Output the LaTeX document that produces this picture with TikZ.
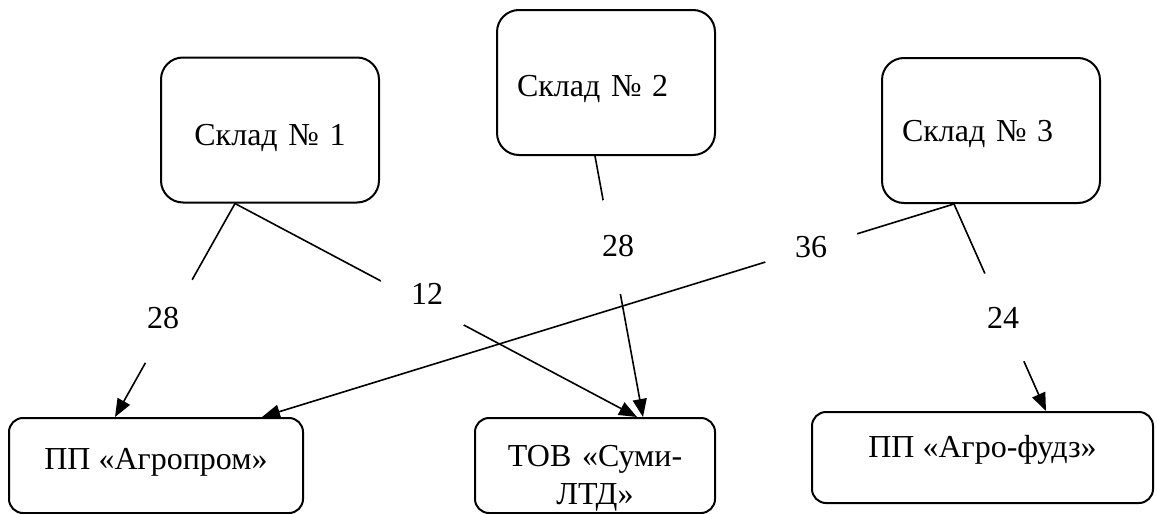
\documentclass[tikz,border=0pt]{standalone}
\usepackage{fontspec}
\setmainfont{Liberation Serif}
\usetikzlibrary{arrows.meta,calc}

\begin{document}
\begin{tikzpicture}[x=0.5pt,y=-0.5pt]
  \tikzstyle{every node}=[font=\fontsize{16pt}{19pt}\selectfont]
  \tikzstyle{store}=[draw,line width=1pt,rounded corners=11pt,text width=89pt,inner xsep=10pt,minimum height=72.5pt,text depth=3.4pt]
  \tikzstyle{shop}=[draw,line width=1pt,rounded corners=7pt,align=center,inner xsep=10pt,inner ysep=0pt]
  \tikzstyle{amount}=[circle,fill=white,inner sep=0pt,minimum size=48pt]
  \tikzstyle{route}=[line width=0.8pt,-{Triangle[length=9pt,width=7pt]}]
\useasboundingbox (0,0) rectangle (1157,514);
\node[store,align=center,text height=18.6pt] (s1) at (270,130) {Склад № 1};
\node[store,align=left,text height=17.6pt] (s2) at (606,82.5) {Склад № 2};
\node[store,align=left,text height=14.6pt] (s3) at (991,130.5) {Склад № 3};
\node[shop,minimum width=147pt,minimum height=47.5pt,text height=7.6pt,text depth=3.4pt] (b1) at (156,465.5) {ПП «Агропром»};
\node[shop,text width=100pt,minimum height=47.5pt,text height=21pt,text depth=19.8pt] (b2) at (595,465.5) {ТОВ «Суми-\\ЛТД»};
\node[shop,minimum width=170.5pt,minimum height=45.5pt,text height=3.6pt,text depth=3.4pt] (b3) at (982.5,457.5) {ПП «Агро-фудз»};
\draw[route] ($(s1.south)+(-35,0)$) -- ($(b1.north)+(-41,0)$);
\draw[route] ($(s1.south)+(-35,0)$) -- ($(b2.north)+(42,0)$);
\draw[route] ($(s2.south)+(-11,0)$) -- ($(b2.north)+(48,0)$);
\draw[route] ($(s3.south)+(-37,0)$) -- ($(b1.north)+(106,0)$);
\draw[route] ($(s3.south)+(-37,0)$) -- ($(b3.north)+(63.5,0)$);
\node[amount] (q1) at (163,318) {28};
\node[amount] (q2) at (427,294) {12};
\node[amount] (q3) at (618,246) {28};
\node[amount] (q4) at (811,247) {36};
\node[amount] (q5) at (1003,318) {24};
\end{tikzpicture}
\end{document}
